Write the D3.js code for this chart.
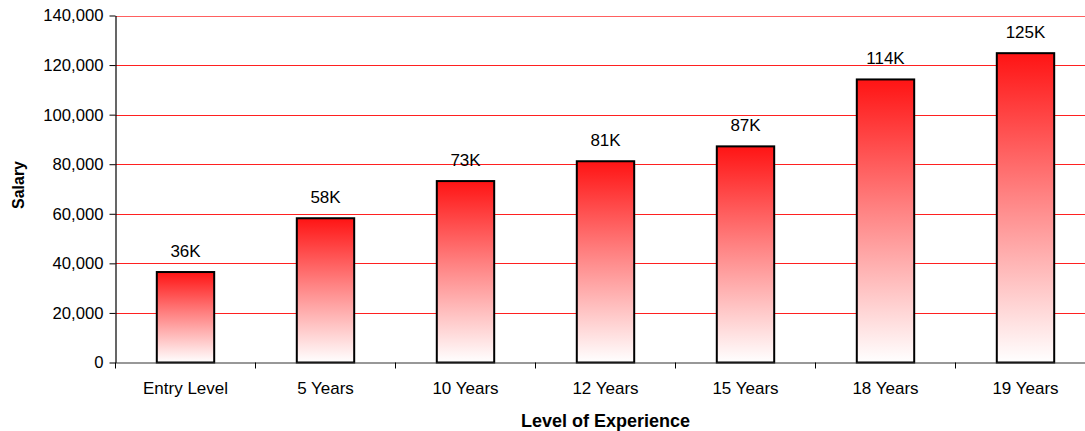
<!DOCTYPE html>
<html><head><meta charset="utf-8">
<script src="https://cdn.jsdelivr.net/npm/d3@7"></script>
<style>body{margin:0;background:#fff;} text{font-family:"Liberation Sans",Arial,sans-serif;}</style>
</head><body>
<svg id="c" width="1085" height="431"></svg>
<script>
const categories = ["Entry Level","5 Years","10 Years","12 Years","15 Years","18 Years","19 Years"];
const salaries = [36500, 58200, 73200, 81200, 87200, 114200, 124800];
const labels = ["36K","58K","73K","81K","87K","114K","125K"];
const yTicks = [0,20000,40000,60000,80000,100000,120000,140000];

const svg = d3.select("#c");
const m = {l:115.5, r:1095.5, t:15.5, b:362.5};
const x = d3.scaleBand().domain(categories).range([m.l, m.r]).paddingInner(0.59).paddingOuter(0.295);
const y = d3.scaleLinear().domain([0,140000]).range([m.b, m.t]);

const defs = svg.append("defs");
const g = defs.append("linearGradient").attr("id","grad").attr("x1",0).attr("y1",0).attr("x2",0).attr("y2",1);
g.append("stop").attr("offset","0%").attr("stop-color","#ff1414");
g.append("stop").attr("offset","45%").attr("stop-color","#ff8080");
g.append("stop").attr("offset","100%").attr("stop-color","#ffffff");

// gridlines
svg.append("g").selectAll("line").data(yTicks.filter(d=>d>0)).join("line")
  .attr("x1", m.l).attr("x2", m.r).attr("y1", d=>Math.round(y(d))+0.5).attr("y2", d=>Math.round(y(d))+0.5)
  .attr("stroke", d=>d===140000 ? "#ff6060" : "#ff2020").attr("stroke-width", 1);

// y axis
const ya = svg.append("g").attr("transform", `translate(${m.l},0)`)
  .call(d3.axisLeft(y).tickValues(yTicks).tickFormat(d3.format(",")).tickSize(6).tickSizeOuter(0));
ya.select(".domain").attr("stroke","#000").attr("stroke-width",1.2);
ya.selectAll(".tick line").attr("stroke","#000");
ya.selectAll(".tick text").attr("font-size",16.7).attr("fill","#000").attr("x",-12).style("font-family","Liberation Sans, Arial, sans-serif");

// bars
svg.append("g").selectAll("rect").data(salaries).join("rect")
  .attr("x", (d,i)=>x(categories[i]))
  .attr("y", d=>y(d))
  .attr("width", x.bandwidth())
  .attr("height", d=>y(0)-y(d))
  .attr("fill","url(#grad)")
  .attr("stroke","#000").attr("stroke-width",2);

// x axis
const xa = svg.append("g").attr("transform", `translate(0,${m.b})`)
  .call(d3.axisBottom(x).tickSize(0).tickSizeOuter(0));
xa.select(".domain").attr("stroke","#333").attr("stroke-width",1.2);
xa.selectAll(".tick text").attr("font-size",17).attr("fill","#000").attr("dy",0).attr("y",31).style("font-family","Liberation Sans, Arial, sans-serif");
// category boundary ticks
const bounds = categories.map(c=>x(c) - x.step()*x.paddingInner()/2).concat([m.r]);
svg.append("g").selectAll("line").data(bounds).join("line")
  .attr("x1", d=>d).attr("x2", d=>d).attr("y1", m.b).attr("y2", m.b+6).attr("stroke","#000");

// value labels
svg.append("g").selectAll("text").data(salaries).join("text")
  .attr("x", (d,i)=>x(categories[i]) + x.bandwidth()/2)
  .attr("y", d=>y(d)-15)
  .attr("text-anchor","middle").attr("font-size",17).attr("fill","#000")
  .text((d,i)=>labels[i]);

// axis titles
svg.append("text").attr("x", (m.l+m.r)/2).attr("y", 427).attr("text-anchor","middle")
  .attr("font-size",18).attr("font-weight","bold").text("Level of Experience");
svg.append("text").attr("transform","translate(24,185) rotate(-90)").attr("text-anchor","middle")
  .attr("font-size",16).attr("font-weight","bold").text("Salary");
</script>
</body></html>
